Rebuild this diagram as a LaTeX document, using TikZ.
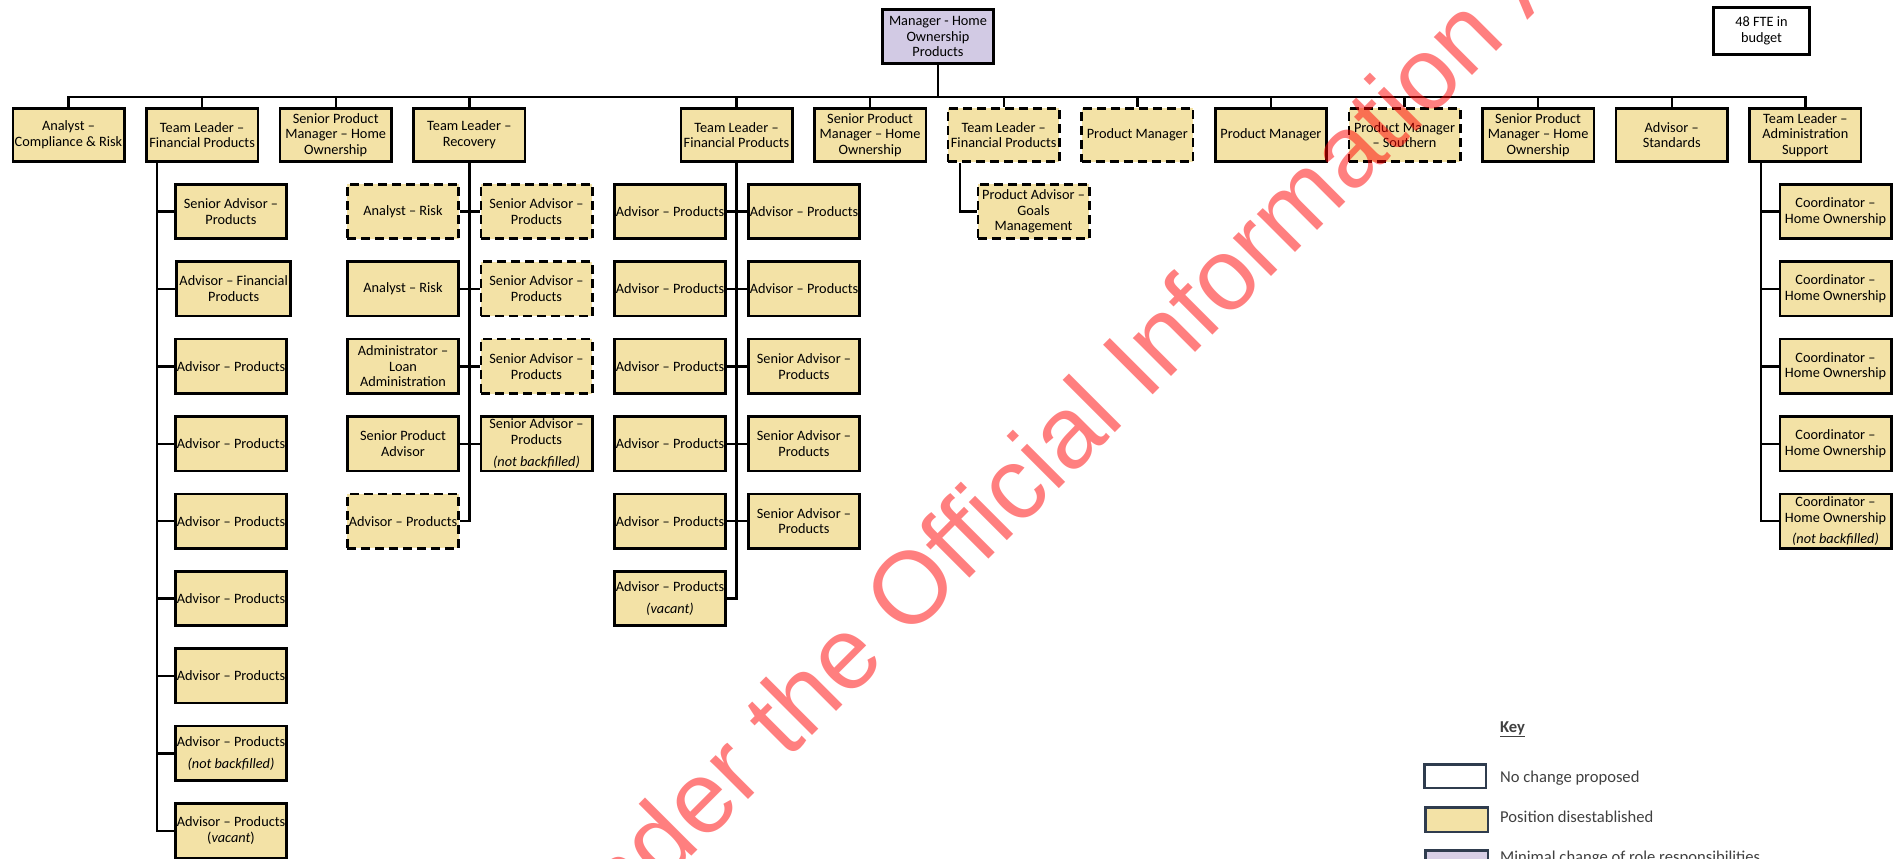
\documentclass[tikz,border=0pt]{standalone}
\usepackage{fontspec}
\setmainfont{Carlito}
\newfontfamily\wmfont{Liberation Sans}
\usetikzlibrary{calc}
\definecolor{boxyel}{RGB}{243,226,166}
\definecolor{boxlav}{RGB}{210,202,228}
\definecolor{keylav}{RGB}{216,207,230}
\definecolor{keyline}{RGB}{47,60,78}
\definecolor{keytext}{RGB}{64,64,64}
\tikzset{
  role/.style={draw=black, line width=2.6pt, fill=boxyel, minimum width=111.4pt, minimum height=54.4pt, inner sep=0pt, align=center, font=\fontsize{14.3}{15.7}\selectfont, text=black},
  toprole/.style={role, minimum height=53.4pt},
  gone/.style={dash pattern=on 9pt off 5pt},
  link/.style={draw=black, line width=2.4pt},
  keybox/.style={draw=keyline, line width=2.5pt, minimum width=61.5pt, minimum height=23.5pt, inner sep=0pt},
  keytxt/.style={anchor=base west, inner sep=0pt, text=keytext, font=\fontsize{16.6}{19}\selectfont},
}
\begin{document}
\begin{tikzpicture}[x=1pt,y=-1pt]
\useasboundingbox (0,0) rectangle (1901,859);
\clip (0,0) rectangle (1901,859);

% manager and budget
\node[role, fill=boxlav, minimum height=54.4pt] (mgr) at (938,36.5) {Manager - Home\\Ownership\\Products};
\node[role, fill=white, minimum width=96.4pt, minimum height=47.4pt] (fte) at (1761.5,31) {48 FTE in\\budget};

% top row
\node[toprole] (t0) at (68.5,135) {Analyst –\\Compliance \& Risk};
\node[toprole] (t1) at (202.1,135) {Team Leader –\\Financial Products};
\node[toprole] (t2) at (335.7,135) {Senior Product\\Manager – Home\\Ownership};
\node[toprole] (t3) at (469.3,135) {Team Leader –\\Recovery};
\node[toprole] (t5) at (736.5,135) {Team Leader –\\Financial Products};
\node[toprole] (t6) at (870.1,135) {Senior Product\\Manager – Home\\Ownership};
\node[toprole, gone] (t7) at (1003.7,135) {Team Leader –\\Financial Products};
\node[toprole, gone] (t8) at (1137.3,135) {Product Manager};
\node[toprole] (t9) at (1270.9,135) {Product Manager};
\node[toprole, gone] (t10) at (1404.5,135) {Product Manager\\– Southern};
\node[toprole] (t11) at (1538.1,135) {Senior Product\\Manager – Home\\Ownership};
\node[toprole] (t12) at (1671.7,135) {Advisor –\\Standards};
\node[toprole] (t13) at (1805.3,135) {Team Leader –\\Administration\\Support};

% column 1
\node[role] (c1r0) at (231,211.5) {Senior Advisor –\\Products};
\node[role, minimum width=113.9pt] (c1r1) at (233.7,288.9) {Advisor – Financial\\Products};
\node[role] (c1r2) at (231,366.3) {Advisor – Products};
\node[role] (c1r3) at (231,443.7) {Advisor – Products};
\node[role] (c1r4) at (231,521.1) {Advisor – Products};
\node[role] (c1r5) at (231,598.5) {Advisor – Products};
\node[role] (c1r6) at (231,675.9) {Advisor – Products};
\node[role] (c1r7) at (231,753.3) {Advisor – Products\\[6pt]\textit{(not backfilled)}};
\node[role] (c1r8) at (231,830.7) {Advisor – Products\\(\textit{vacant})};

% column 2
\node[role, gone] (c2l0) at (403,211.5) {Analyst – Risk};
\node[role, gone] (c2r0) at (536.5,211.5) {Senior Advisor –\\Products};
\node[role] (c2l1) at (403,288.9) {Analyst – Risk};
\node[role, gone] (c2r1) at (536.5,288.9) {Senior Advisor –\\Products};
\node[role] (c2l2) at (403,366.3) {Administrator –\\Loan\\Administration};
\node[role, gone] (c2r2) at (536.5,366.3) {Senior Advisor –\\Products};
\node[role] (c2l3) at (403,443.7) {Senior Product\\Advisor};
\node[role] (c2r3) at (536.5,443.7) {Senior Advisor –\\Products\\[6pt]\textit{(not backfilled)}};
\node[role, gone] (c2l4) at (403,521.1) {Advisor – Products};

% column 3
\node[role] (c3l0) at (670,211.5) {Advisor – Products};
\node[role] (c3r0) at (804,211.5) {Advisor – Products};
\node[role] (c3l1) at (670,288.9) {Advisor – Products};
\node[role] (c3r1) at (804,288.9) {Advisor – Products};
\node[role] (c3l2) at (670,366.3) {Advisor – Products};
\node[role] (c3r2) at (804,366.3) {Senior Advisor –\\Products};
\node[role] (c3l3) at (670,443.7) {Advisor – Products};
\node[role] (c3r3) at (804,443.7) {Senior Advisor –\\Products};
\node[role] (c3l4) at (670,521.1) {Advisor – Products};
\node[role] (c3r4) at (804,521.1) {Senior Advisor –\\Products};
\node[role] (c3l5) at (670,598.5) {Advisor – Products\\[6pt]\textit{(vacant)}};

% column 4
\node[role, gone] (c4) at (1033.5,211.5) {Product Advisor –\\Goals\\Management};

% column 5
\node[role] (c5r0) at (1835.5,211.5) {Coordinator –\\Home Ownership};
\node[role] (c5r1) at (1835.5,288.9) {Coordinator –\\Home Ownership};
\node[role] (c5r2) at (1835.5,366.3) {Coordinator –\\Home Ownership};
\node[role] (c5r3) at (1835.5,443.7) {Coordinator –\\Home Ownership};
\node[role] (c5r4) at (1835.5,521.1) {Coordinator –\\Home Ownership\\[6pt]\textit{(not backfilled)}};

% connectors
\coordinate (bus) at (0,97);
\draw[link] (t0.north) |- (t13.north |- bus) -- (t13.north);
\draw[link] (mgr.south) -- (mgr.south |- bus);
\foreach \n in {t1,t2,t3,t5,t6,t7,t8,t9,t10,t11,t12}
  \draw[link] (\n.north) -- (\n.north |- bus);

\coordinate (sp1) at ([xshift=12pt]t1.south west);
\draw[link] (sp1) |- (c1r8.west);
\foreach \k in {0,...,7}
  \draw[link] (c1r\k.west) -- (c1r\k.west -| sp1);

\draw[link] (t3.south) |- (c2l4.east);
\foreach \k in {0,...,3}
  \draw[link] (c2l\k.east) -- (c2r\k.west);

\draw[link] (t5.south) |- (c3l5.east);
\foreach \k in {0,...,4}
  \draw[link] (c3l\k.east) -- (c3r\k.west);

\coordinate (sp4) at ([xshift=13pt]t7.south west);
\draw[link] (sp4) |- (c4.west);

\coordinate (sp5) at ([xshift=12.5pt]t13.south west);
\draw[link] (sp5) |- (c5r4.west);
\foreach \k in {0,...,3}
  \draw[link] (c5r\k.west) -- (c5r\k.west -| sp5);

% key
\node[keytxt, font=\fontsize{16.6}{19}\selectfont\bfseries] (keyhead) at (1500,732) {\underline{Key}};
\node[keybox, fill=white] (k1) at (1455,776) {};
\node[keytxt] (k1t) at (1500,782) {No change proposed};
\node[keybox, fill=boxyel, minimum width=62.5pt, minimum height=24.5pt] (k2) at (1456.5,819.5) {};
\node[keytxt] (k2t) at (1500,822) {Position disestablished};
\node[keybox, fill=keylav, minimum width=62.5pt, minimum height=24.5pt] (k3) at (1456.5,862.5) {};
\node[keytxt] (k3t) at (1500,862) {Minimal change of role responsibilities};

% watermark
\node[anchor=base, rotate=45, inner sep=0pt, text=red, text opacity=0.5, font=\wmfont\fontsize{102}{102}\selectfont] (wm) at (945,603) {Released under the Official Information Act};
\end{tikzpicture}
\end{document}
